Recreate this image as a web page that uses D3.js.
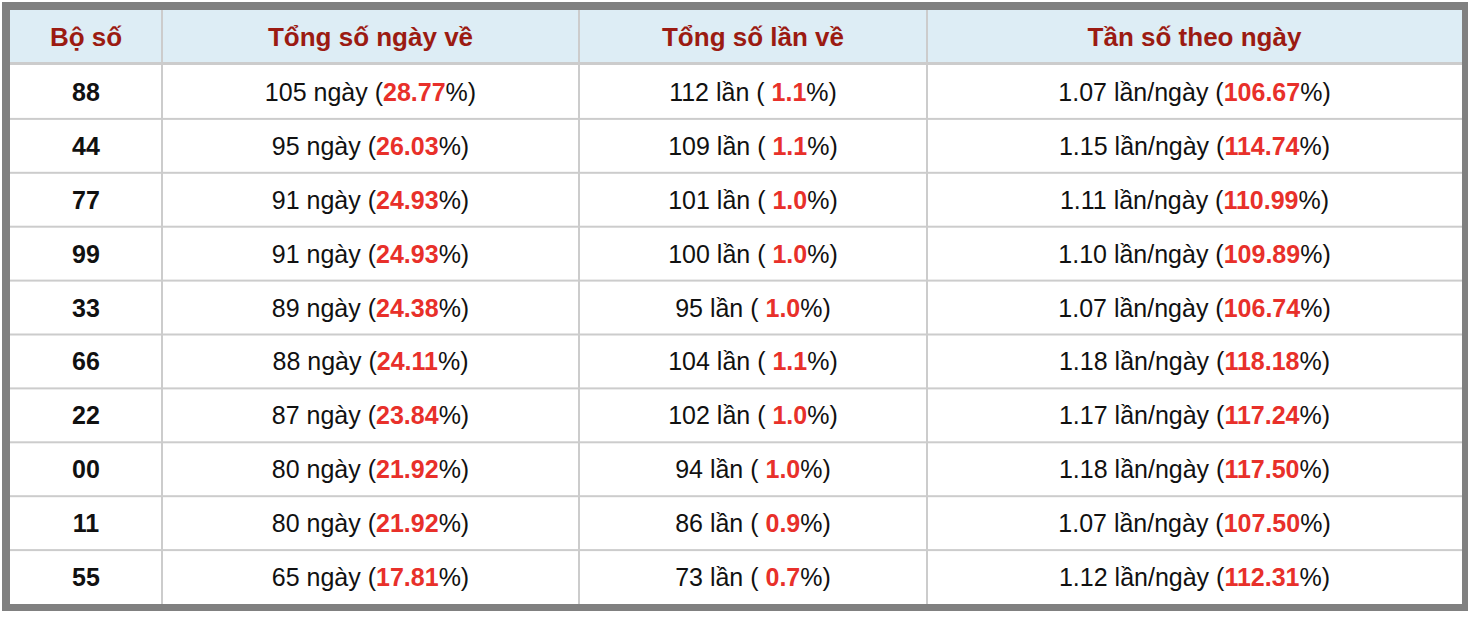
<!DOCTYPE html>
<html><head><meta charset="utf-8">
<script src="https://cdn.jsdelivr.net/npm/d3@7"></script>
<style>body{margin:0;background:#fff}svg{display:block;font-family:"Liberation Sans",Arial,sans-serif}</style>
</head><body><svg id="c" width="1474" height="618"></svg>
<script>
var headers = ["Bộ số", "Tổng số ngày về", "Tổng số lần về", "Tần số theo ngày"];
var boSo = ["88","44","77","99","33","66","22","00","11","55"];
var soNgay = [105,95,91,91,89,88,87,80,80,65];
var pctNgay = ["28.77","26.03","24.93","24.93","24.38","24.11","23.84","21.92","21.92","17.81"];
var soLan = [112,109,101,100,95,104,102,94,86,73];
var pctLan = ["1.1","1.1","1.0","1.0","1.0","1.1","1.0","1.0","0.9","0.7"];
var tanSo = ["1.07","1.15","1.11","1.10","1.07","1.18","1.17","1.18","1.07","1.12"];
var pctTanSo = ["106.67","114.74","110.99","109.89","106.74","118.18","117.24","117.50","107.50","112.31"];

var svg = d3.select("#c");
var colEdges = [10, 162, 579, 927, 1462];
var tableTop = 10, headH = 55, rowH = 54, tableBottom = 604;
var red = "#e8302a";

svg.append("rect").attr("x", 2).attr("y", 2).attr("width", 1466).attr("height", 609).attr("fill", "#808080");
svg.append("rect").attr("x", 10).attr("y", 10).attr("width", 1452).attr("height", tableBottom - 10).attr("fill", "#fff");
svg.append("rect").attr("x", 10).attr("y", 10).attr("width", 1452).attr("height", headH - 1).attr("fill", "#ddedf5");

var y = d3.scaleBand().domain(d3.range(boSo.length)).range([tableTop + headH, tableBottom]);

// grid lines
svg.append("rect").attr("x", 10).attr("y", 62).attr("width", 1452).attr("height", 3).attr("fill", "#cccccc");
boSo.forEach(function(d, i) {
    if (i > 0) svg.append("rect").attr("x", 10).attr("y", y(i) - 1).attr("width", 1452).attr("height", 2).attr("fill", "#cccccc");
});
colEdges.slice(1, -1).forEach(function(x) {
    svg.append("rect").attr("x", x - 1).attr("y", 10).attr("width", 2).attr("height", tableBottom - 10).attr("fill", "#cccccc");
});

var cx = function(c) { return (colEdges[c] + colEdges[c + 1]) / 2; };

svg.selectAll(".h").data(headers).enter().append("text")
    .attr("x", function(d, i) { return cx(i); }).attr("y", 46)
    .attr("text-anchor", "middle").attr("font-size", 26).attr("font-weight", "bold")
    .attr("fill", "#9b1b12").text(function(d) { return d; });

function cell(c, i, parts) {
    var t = svg.append("text").attr("x", cx(c)).attr("y", y(i) + y.bandwidth() / 2 + 9)
        .attr("text-anchor", "middle").attr("font-size", 25).attr("fill", "#111");
    parts.forEach(function(p) {
        var s = t.append("tspan").text(p[0]);
        if (p[1]) s.attr("fill", red).attr("font-weight", "bold");
    });
    return t;
}

boSo.forEach(function(d, i) {
    cell(0, i, [[d]]).attr("font-weight", "bold");
    cell(1, i, [[soNgay[i] + " ngày ("], [pctNgay[i], 1], ["%)"]]);
    cell(2, i, [[soLan[i] + " lần ( "], [pctLan[i], 1], ["%)"]]);
    cell(3, i, [[tanSo[i] + " lần/ngày ("], [pctTanSo[i], 1], ["%)"]]);
});
</script></body></html>
